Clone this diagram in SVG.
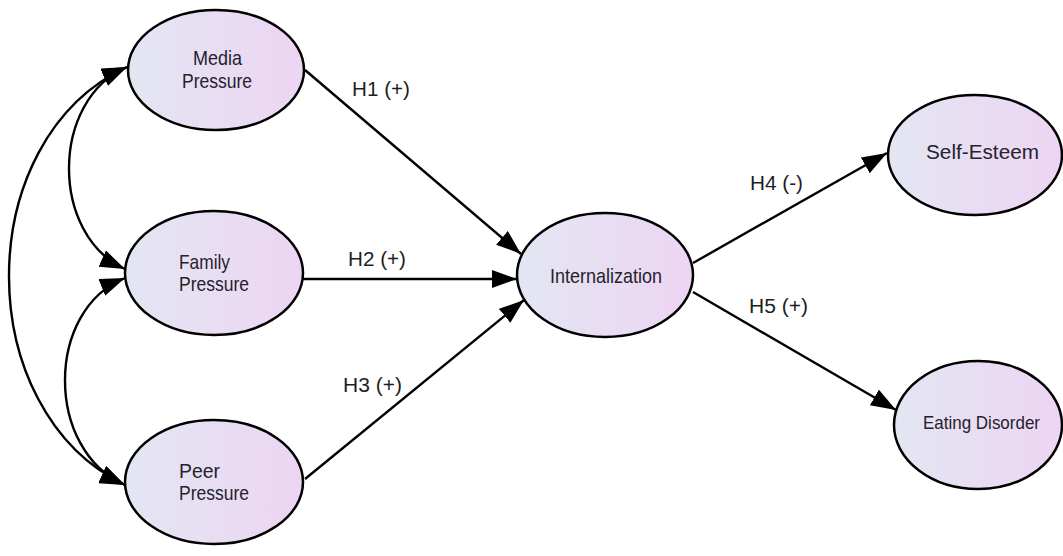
<svg xmlns="http://www.w3.org/2000/svg" width="1063" height="556" viewBox="0 0 1063 556">
<style>
.node ellipse{fill:url(#g);stroke:#000;stroke-width:2.5}
.node text{font-family:"Liberation Sans",Arial,sans-serif;font-size:21px;fill:#26222c}
.lbl{font-family:"Liberation Sans",Arial,sans-serif;font-size:20px;fill:#1e1e1e}
.edge{fill:none;stroke:#000;stroke-width:2.4}
</style>
<defs>
<linearGradient id="g" x1="0" y1="0" x2="1" y2="0">
<stop offset="0" stop-color="#e3e6f2"/>
<stop offset="1" stop-color="#edd5f3"/>
</linearGradient>
<marker id="ah" markerUnits="userSpaceOnUse" markerWidth="28" markerHeight="20" refX="25" refY="9" orient="auto-start-reverse">
<path d="M0,0 L25,9 L0,18 z" fill="#000"/>
</marker>
</defs>
<rect width="1063" height="556" fill="#fff"/>
<g id="connectors">
<path class="edge" marker-end="url(#ah)" d="M305,70 L521,254"/>
<path class="edge" marker-end="url(#ah)" d="M303,279 L517,279"/>
<path class="edge" marker-end="url(#ah)" d="M305,479 L524,300"/>
<path class="edge" marker-end="url(#ah)" d="M693,263 L887,153"/>
<path class="edge" marker-end="url(#ah)" d="M693,292 L896,410"/>
<path class="edge" marker-start="url(#ah)" marker-end="url(#ah)" d="M127,67 C50,100 50,235 125,269"/>
<path class="edge" marker-start="url(#ah)" marker-end="url(#ah)" d="M127,67 C-30,140 -30,410 125,485"/>
<path class="edge" marker-start="url(#ah)" marker-end="url(#ah)" d="M125,278 C45,310 45,450 125,485"/>
</g>
<g id="labels">
<text class="lbl" x="352" y="96" textLength="58" lengthAdjust="spacingAndGlyphs">H1 (+)</text>
<text class="lbl" x="348" y="266" textLength="58" lengthAdjust="spacingAndGlyphs">H2 (+)</text>
<text class="lbl" x="343" y="392" textLength="59" lengthAdjust="spacingAndGlyphs">H3 (+)</text>
<text class="lbl" x="750" y="190" textLength="53" lengthAdjust="spacingAndGlyphs">H4 (-)</text>
<text class="lbl" x="749" y="313" textLength="59" lengthAdjust="spacingAndGlyphs">H5 (+)</text>
</g>
<g id="media" class="node">
<ellipse cx="216" cy="70" rx="88" ry="60"/>
<text x="193" y="65" textLength="49" lengthAdjust="spacingAndGlyphs">Media</text>
<text x="182" y="88" textLength="70" lengthAdjust="spacingAndGlyphs">Pressure</text>
</g>
<g id="family" class="node">
<ellipse cx="214" cy="273" rx="89" ry="62"/>
<text x="179" y="269" textLength="51" lengthAdjust="spacingAndGlyphs">Family</text>
<text x="179" y="291" textLength="70" lengthAdjust="spacingAndGlyphs">Pressure</text>
</g>
<g id="peer" class="node">
<ellipse cx="214" cy="482" rx="89" ry="62"/>
<text x="179" y="478" textLength="41" lengthAdjust="spacingAndGlyphs">Peer</text>
<text x="179" y="500" textLength="70" lengthAdjust="spacingAndGlyphs">Pressure</text>
</g>
<g id="internalization" class="node">
<ellipse cx="605" cy="275" rx="88" ry="62"/>
<text x="550" y="283" textLength="112" lengthAdjust="spacingAndGlyphs">Internalization</text>
</g>
<g id="selfesteem" class="node">
<ellipse cx="975" cy="155" rx="87" ry="60"/>
<text x="926" y="159" style="font-size:20px" textLength="113" lengthAdjust="spacingAndGlyphs">Self-Esteem</text>
</g>
<g id="eating" class="node">
<ellipse cx="978" cy="425" rx="84" ry="64"/>
<text x="923" y="429" style="font-size:19px" textLength="117" lengthAdjust="spacingAndGlyphs">Eating Disorder</text>
</g>
</svg>
